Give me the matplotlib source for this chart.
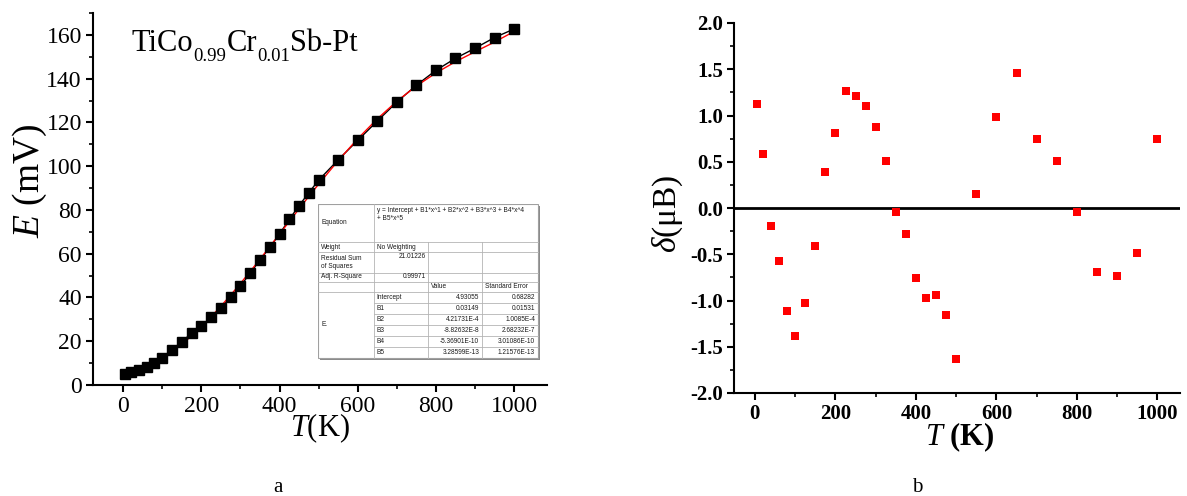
import matplotlib.pyplot as plt
import numpy as np
from matplotlib.ticker import MultipleLocator
from matplotlib.patches import Rectangle

plt.rcParams['font.family'] = 'Liberation Serif'
plt.rcParams['mathtext.fontset'] = 'custom'
plt.rcParams['mathtext.rm'] = 'Liberation Serif'
plt.rcParams['mathtext.it'] = 'Liberation Serif:italic'
plt.rcParams['mathtext.bf'] = 'Liberation Serif:bold'

# measured thermo-emf and fit deviation vs temperature
temperature = [5, 20, 40, 60, 80, 100, 125, 150, 175, 200, 225, 250, 275, 300,
               325, 350, 375, 400, 425, 450, 475, 500, 550, 600, 650, 700, 750,
               800, 850, 900, 950, 1000]
emf = [5.0, 5.8, 6.9, 8.1, 9.9, 12.5, 16.2, 19.7, 23.7, 27.0, 31.0, 35.1, 40.2,
       45.2, 51.1, 57.1, 62.9, 69.0, 75.7, 82.0, 87.9, 93.6, 102.9, 111.8, 120.6,
       129.3, 137.0, 143.8, 149.3, 153.9, 158.8, 162.7]
delta = [1.12, 0.58, -0.19, -0.57, -1.11, -1.38, -1.03, -0.41, 0.39, 0.81, 1.27,
         1.21, 1.10, 0.88, 0.51, -0.04, -0.28, -0.76, -0.97, -0.94, -1.16, -1.63,
         0.15, 0.98, 1.46, 0.75, 0.51, -0.04, -0.69, -0.74, -0.49, 0.75]

# sample name, split into normal and subscript parts
sample_parts = [("TiCo", False), ("0.99", True), ("Cr", False), ("0.01", True), ("Sb-Pt", False)]

# polynomial fit report
fit_equation = "y = Intercept + B1*x^1 + B2*x^2 + B3*x^3 + B4*x^4\n+ B5*x^5"
fit_weight = "No Weighting"
fit_rss = "21.01226"
fit_adj_r2 = "0.99971"
fit_names = ["Intercept", "B1", "B2", "B3", "B4", "B5"]
fit_values = ["4.93055", "0.03149", "4.21731E-4", "-8.82632E-8", "-5.36901E-10", "3.28599E-13"]
fit_errors = ["0.68282", "0.01531", "1.0085E-4", "2.68232E-7", "3.01086E-10", "1.21576E-13"]

W, H = 1187, 496
fig = plt.figure(figsize=(W / 100, H / 100), dpi=100)
renderer = fig.canvas.get_renderer()


def px_axes(left, top, right, bottom):
    return fig.add_axes([left / W, 1 - bottom / H, (right - left) / W, (bottom - top) / H])


def style_axes(ax, size, weight):
    for s in ['top', 'right']:
        ax.spines[s].set_visible(False)
    for s in ['left', 'bottom']:
        ax.spines[s].set_linewidth(1.5)
    ax.tick_params(which='major', direction='out', length=5, width=1.5,
                   labelsize=size, pad=3)
    ax.tick_params(which='minor', direction='out', length=3, width=1.2)
    for lab in ax.get_xticklabels() + ax.get_yticklabels():
        lab.set_fontweight(weight)


T = np.array(temperature)
coeffs = [float(v) for v in fit_values]
emf_fit = np.polynomial.polynomial.polyval(T, coeffs)

# (a) emf vs temperature
ax1 = px_axes(93, 13, 547, 385)
ax1.plot(T, emf, color='black', lw=1.0, zorder=2)
ax1.plot(T, emf_fit, color='red', lw=1.0, zorder=3)
ax1.plot(T, emf, 's', color='black', ms=6.5, zorder=4)
ax1.set_xlim(-77, 1084)
ax1.set_ylim(0, 170)
ax1.xaxis.set_major_locator(MultipleLocator(200))
ax1.xaxis.set_minor_locator(MultipleLocator(100))
ax1.yaxis.set_major_locator(MultipleLocator(20))
ax1.yaxis.set_minor_locator(MultipleLocator(10))
style_axes(ax1, 17, 'normal')
ax1.set_ylabel(r'$E$ (mV)', fontsize=27, va='center')
ax1.yaxis.set_label_coords(-0.14, 0.55)
ax1.set_xlabel(r'$T$(K)', fontsize=22, va='center')
ax1.xaxis.set_label_coords(0.5, -0.117)

# sample name with lowered subscripts
x = 132
for txt, sub in sample_parts:
    y = 61 if sub else 51
    t = fig.text(x / W, 1 - y / H, txt, fontsize=13.5 if sub else 22,
                 va='baseline', ha='left')
    x = t.get_window_extent(renderer).x1

# fit report table
tb = px_axes(318, 204, 540, 360)
tb.set_xlim(0, 222)
tb.set_ylim(156, 0)
tb.axis('off')
cx = [0, 55.6, 110.4, 164.2, 220]
ry = [0, 37.7, 48.3, 68.7, 77.7, 88.3, 99.3, 110.3, 121, 132, 142.7, 154]
tb.add_patch(Rectangle((1.5, 1.5), 220, 154, facecolor='#8a8a8a', edgecolor='none'))
tb.add_patch(Rectangle((0, 0), 220, 154, facecolor='white', edgecolor='#a0a0a0', lw=0.8))
lc = '#b4b4b4'
for k, y in enumerate(ry[1:-1], start=1):
    x0 = cx[1] if k > 5 else 0
    tb.plot([x0, cx[-1]], [y, y], color=lc, lw=0.6)
tb.plot([cx[1], cx[1]], [0, ry[-1]], color=lc, lw=0.6)
for xv in cx[2:4]:
    tb.plot([xv, xv], [ry[1], ry[-1]], color=lc, lw=0.6)

tkw = dict(family='Liberation Sans', fontsize=4.7, color='#1a1a1a')
tb.text(3, 18, "Equation", va='center', **tkw)
tb.text(cx[1] + 3, 3, fit_equation, va='top', linespacing=1.1, **tkw)
tb.text(3, 43, "Weight", va='center', **tkw)
tb.text(cx[1] + 3, 43, fit_weight, va='center', **tkw)
tb.text(3, 58.5, "Residual Sum\nof Squares", va='center', linespacing=1.0, **tkw)
tb.text(cx[2] - 3, 53, fit_rss, va='center', ha='right', **tkw)
tb.text(3, 73, "Adj. R-Square", va='center', **tkw)
tb.text(cx[2] - 3, 73, fit_adj_r2, va='center', ha='right', **tkw)
tb.text(cx[2] + 3, 83, "Value", va='center', **tkw)
tb.text(cx[3] + 3, 83, "Standard Error", va='center', **tkw)
tb.text(3, 121, "E.", va='center', **tkw)
for i, (n, v, e) in enumerate(zip(fit_names, fit_values, fit_errors)):
    yc = (ry[5 + i] + ry[6 + i]) / 2
    tb.text(cx[1] + 3, yc, n, va='center', **tkw)
    tb.text(cx[3] - 3, yc, v, va='center', ha='right', **tkw)
    tb.text(cx[4] - 3, yc, e, va='center', ha='right', **tkw)

# (b) deviation from fit
ax2 = px_axes(734, 23, 1180, 393)
ax2.axhline(0, color='black', lw=2.0, zorder=1)
ax2.plot(T, delta, 's', color='red', ms=5.5, mew=0, zorder=3)
ax2.set_xlim(-52, 1056)
ax2.set_ylim(-2.0, 2.0)
ax2.xaxis.set_major_locator(MultipleLocator(200))
ax2.xaxis.set_minor_locator(MultipleLocator(100))
ax2.yaxis.set_major_locator(MultipleLocator(0.5))
ax2.yaxis.set_minor_locator(MultipleLocator(0.25))
ax2.yaxis.set_major_formatter(plt.FormatStrFormatter('%.1f'))
style_axes(ax2, 15, 'bold')
ax2.set_ylabel(r'$\delta$(μB)', fontsize=24, va='center')
ax2.yaxis.set_label_coords(-0.148, 0.484)
ax2.set_xlabel(r'$T$ (K)', fontsize=22, fontweight='bold', va='center')
ax2.xaxis.set_label_coords(0.507, -0.12)

fig.text(278 / W, 1 - 488 / H, "a", fontsize=15, ha='center', va='center')
fig.text(917 / W, 1 - 487 / H, "b", fontsize=15, ha='center', va='center')

fig.savefig("out.png", dpi=100)
